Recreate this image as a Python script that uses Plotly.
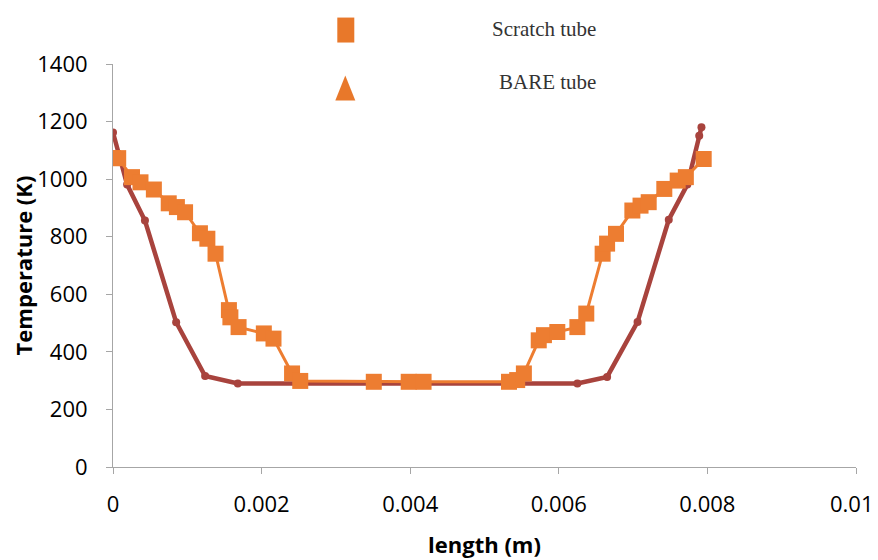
import plotly.graph_objects as go

# Bare tube (dark red line, small circles)
bare_x = [0.0, 0.00019, 0.00043, 0.00085, 0.00124, 0.00168, 0.00625, 0.00665,
          0.00706, 0.00748, 0.00773, 0.00789, 0.00792]
bare_T = [1162, 981, 856, 503, 316, 290, 290, 313, 504, 859, 981, 1151, 1180]

# Scratch tube (orange line, square markers)
scratch_x = [0.0, 0.00007, 0.000256, 0.00037, 0.00055, 0.00075, 0.00086, 0.00097,
             0.00117, 0.00127, 0.00138, 0.00156, 0.00158, 0.00169, 0.00203, 0.00216,
             0.00241, 0.00252, 0.00351, 0.00398, 0.00418, 0.00533, 0.00544, 0.00553,
             0.00573, 0.0058, 0.00598, 0.00625, 0.00637, 0.00659, 0.00665, 0.00677,
             0.00699, 0.0071, 0.00721, 0.00742, 0.0076, 0.00771, 0.00795]
scratch_T = [1073, 1073, 1007, 989, 964, 916, 903, 885,
             812, 793, 741, 545, 520, 486, 464, 446,
             325, 299, 296, 296, 296, 296, 302, 325,
             440, 458, 469, 486, 533, 741, 776, 810,
             891, 908, 920, 966, 995, 1007, 1070]

x_ticks = [0, 0.002, 0.004, 0.006, 0.008, 0.01]
x_ticklabels = ["0", "0.002", "0.004", "0.006", "0.008", "0.01"]
y_ticks = [0, 200, 400, 600, 800, 1000, 1200, 1400]

RED = "#A8433D"
ORANGE = "#ED7D31"

fig = go.Figure()
fig.add_trace(go.Scatter(x=bare_x, y=bare_T, mode="lines+markers", name="BARE tube",
                         line=dict(color=RED, width=4.5),
                         marker=dict(symbol="circle", size=8, color=RED)))
fig.add_trace(go.Scatter(x=scratch_x, y=scratch_T, mode="lines+markers", name="Scratch tube",
                         line=dict(color=ORANGE, width=3),
                         marker=dict(symbol="square", size=16, color=ORANGE)))

# page offset (browser body margin) and plot area geometry in window pixels
OFF = 8
FW, FH = 878 - OFF, 560 - OFF
L, R, T, B = 112.7, 855.7, 63.5, 467.0
W, H = R - L, B - T
def px(p):
    return (p - L) / W
def py(p):
    return (B - p) / H

shapes = [
    dict(type="rect", xref="paper", yref="paper",
         x0=px(337), x1=px(354), y0=py(42), y1=py(17),
         fillcolor="#E8782A", line=dict(width=0)),
    dict(type="path", xref="paper", yref="paper",
         path=f"M {px(345)} {py(75)} L {px(355)} {py(100)} L {px(335)} {py(100)} Z",
         fillcolor="#E8782A", line=dict(width=0)),
]
annotations = [
    dict(text="Scratch tube", xref="paper", yref="paper", x=px(598), y=py(28),
         xanchor="right", yanchor="middle", showarrow=False,
         font=dict(family="Liberation Serif", size=21, color="#333333")),
    dict(text="BARE tube", xref="paper", yref="paper", x=px(598), y=py(82),
         xanchor="right", yanchor="middle", showarrow=False,
         font=dict(family="Liberation Serif", size=21, color="#333333")),
    # last x tick label, shifted inward so it stays inside the page (as in the original)
    dict(text=x_ticklabels[-1], xref="paper", yref="paper", x=px(876), y=py(503),
         xanchor="right", yanchor="middle", showarrow=False,
         font=dict(family="Open Sans", size=22, color="#000000")),
]

fig.update_layout(
    width=FW, height=FH,
    margin=dict(l=L - OFF, r=878 - R, t=T - OFF, b=560 - B, autoexpand=False),
    paper_bgcolor="white", plot_bgcolor="white",
    showlegend=False,
    font=dict(family="Open Sans", size=22, color="#000000"),
    shapes=shapes, annotations=annotations,
)
fig.update_xaxes(range=[0, 0.01], tickvals=x_ticks, ticktext=x_ticklabels[:-1] + [""],
                 automargin=False,
                 showgrid=False, zeroline=False, showline=True, linecolor="#A6A6A6",
                 linewidth=1, ticks="outside", ticklen=6, tickcolor="#A6A6A6",
                 ticklabelstandoff=12,
                 title=dict(text="<b>length (m)</b>", font=dict(size=22), standoff=20))
fig.update_yaxes(range=[0, 1400], tickvals=y_ticks,
                 automargin=False,
                 showgrid=False, zeroline=False, showline=True, linecolor="#A6A6A6",
                 linewidth=1, ticks="outside", ticklen=6, tickcolor="#A6A6A6",
                 ticklabelstandoff=14,
                 title=dict(text="<b>Temperature (K)</b>", font=dict(size=22), standoff=5))

fig.write_html("out.html")
